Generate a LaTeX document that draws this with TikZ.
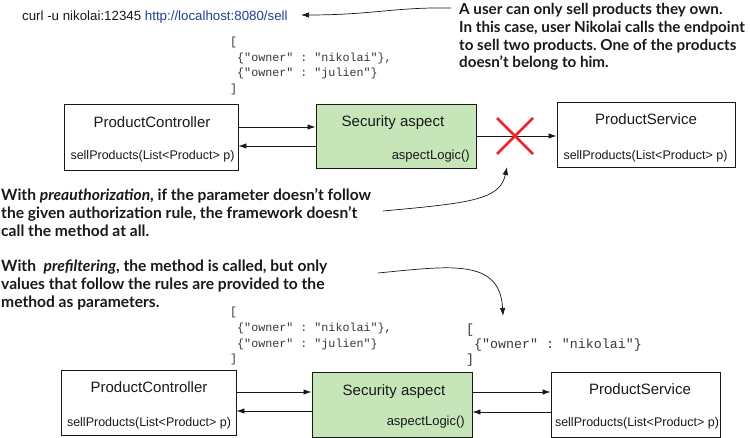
\documentclass[tikz,border=0pt]{standalone}
\usepackage{fontspec}
\setmainfont{Liberation Sans}
\setmonofont{Liberation Mono}
\newfontfamily\annfont{Lato}
\usetikzlibrary{arrows.meta}
\definecolor{aspgreen}{RGB}{198,230,186}
\definecolor{linkblue}{RGB}{35,64,145}
\definecolor{xred}{RGB}{232,38,43}
\definecolor{codegray}{RGB}{55,55,55}
\definecolor{ink}{RGB}{25,25,25}
\frenchspacing
\begin{document}
\begin{tikzpicture}[x=1pt,y=-1pt,
  box/.style={draw=ink,line width=0.9pt,inner sep=0pt},
  greenbox/.style={box,fill=aspgreen},
  title/.style={inner sep=0pt,anchor=base,font=\fontsize{15}{18}\selectfont,text=ink},
  sig/.style={inner sep=0pt,anchor=base,font=\fontsize{12.5}{15}\selectfont,text=ink},
  logic/.style={inner sep=0pt,anchor=base east,font=\fontsize{13}{15}\selectfont,text=ink},
  ann/.style={inner sep=0pt,anchor=base west,align=left,font=\annfont\bfseries\fontsize{15.6}{17.6}\selectfont,text=ink},
  anntop/.style={ann,font=\annfont\bfseries\fontsize{15.2}{17.6}\selectfont},
  codeA/.style={inner sep=0pt,anchor=base west,align=left,font=\ttfamily\fontsize{11.7}{15.6}\selectfont,text=codegray},
  codeB/.style={inner sep=0pt,anchor=base west,align=left,font=\ttfamily\fontsize{13.3}{15}\selectfont,text=codegray},
  arr/.style={draw=ink,line width=0.8pt,-{Latex[length=8pt,width=5.5pt]}},
  carr/.style={draw=ink,line width=0.7pt,-{Latex[length=8pt,width=5.5pt]}},
]
\useasboundingbox (0,0) rectangle (750,438);

% ---- top request line and annotation (base anchor = last line's baseline)
\node[inner sep=0pt,anchor=base west,font=\fontsize{13.3}{16}\selectfont,text=ink] (curl) at (22,21)
  {curl -u nikolai:12345 \textcolor{linkblue}{http://localhost:8080/sell}};
\node[anntop] (ann1) at (459,67.8) {A user can only sell products they own.\\In this case, user Nikolai calls the endpoint\\to sell two products. One of the products\\doesn’t belong to him.};
\coordinate (a1s) at (451,8);
\coordinate (a1e) at (301,15);
\draw[carr] (a1s) .. controls (395,7) and (372,15) .. (a1e);

\node[codeA] (json1) at (230,92.3) {[\\\ \{"owner" : "nikolai"\},\\\ \{"owner" : "julien"\}\\]};

% ---- top row
\node[box,minimum width=174pt,minimum height=66pt] (pc1) at (151,137) {};
\node[greenbox,minimum width=160pt,minimum height=64pt] (sa1) at (396,136) {};
\node[box,minimum width=178pt,minimum height=65pt] (ps1) at (646,134.5) {};

\node[title] (pc1t) at (152,127.5) {ProductController};
\node[sig] (pc1s) at (152.5,160) {sellProducts(List<Product> p)};
\node[title] (sa1t) at (393,126.5) {Security aspect};
\node[logic] (sa1l) at (470,160) {aspectLogic()};
\node[title] (ps1t) at (646,124.5) {ProductService};
\node[sig] (ps1s) at (645.5,159.5) {sellProducts(List<Product> p)};

\draw[arr] ([yshift=10pt]pc1.east) -- ([yshift=10pt]pc1.east -| sa1.west);
\draw[arr] ([yshift=-9pt]pc1.east -| sa1.west) -- ([yshift=-9pt]pc1.east);
\draw[arr] (sa1.east) -- (sa1.east -| ps1.west);

\coordinate (xc) at (515,136);
\draw[xred,line width=2.6pt] ([shift={(-18,-18)}]xc) -- ([shift={(18,18)}]xc)
  ([shift={(-18,18)}]xc) -- ([shift={(18,-18)}]xc);

% ---- explanations
\node[ann] (pre) at (1,236.2) {With \textit{preauthorization}, if the parameter doesn’t follow\\the given authorization rule, the framework doesn’t\\call the method at all.};
\coordinate (a2s) at (383,211);
\coordinate (a2e) at (507,167);
\draw[carr] (a2s) .. controls (470,203) and (500,200) .. (a2e);

\node[ann] (filt) at (1,307.2) {With \ \textit{prefiltering}, the method is called, but only\\values that follow the rules are provided to the\\method as parameters.};
\coordinate (a3s) at (378,273);
\coordinate (a3e) at (503,316);
\draw[carr] (a3s) .. controls (450,266) and (500,258) .. (a3e);

\node[codeA] (json2) at (230,362.8) {[\\\ \{"owner" : "nikolai"\},\\\ \{"owner" : "julien"\}\\]};
\node[codeB] (json3) at (466,364) {[\\\ \{"owner" : "nikolai"\}\\]};

% ---- bottom row
\node[box,minimum width=175pt,minimum height=65pt] (pc2) at (148.5,402.5) {};
\node[greenbox,minimum width=160pt,minimum height=65pt] (sa2) at (392,404.5) {};
\node[box,minimum width=169pt,minimum height=65pt] (ps2) at (635.5,404.5) {};

\node[title] (pc2t) at (149,392.5) {ProductController};
\node[sig] (pc2s) at (149,426.5) {sellProducts(List<Product> p)};
\node[title] (sa2t) at (394,395.5) {Security aspect};
\node[logic] (sa2l) at (465,425.5) {aspectLogic()};
\node[title] (ps2t) at (640,394.5) {ProductService};
\node[sig] (ps2s) at (637,426.5) {sellProducts(List<Product> p)};

\draw[arr] ([yshift=10.5pt]pc2.east) -- ([yshift=10.5pt]pc2.east -| sa2.west);
\draw[arr] ([yshift=-8.5pt]pc2.east -| sa2.west) -- ([yshift=-8.5pt]pc2.east);
\draw[arr] ([yshift=12.5pt]sa2.east) -- ([yshift=12.5pt]sa2.east -| ps2.west);
\draw[arr] ([yshift=-7.5pt]sa2.east -| ps2.west) -- ([yshift=-7.5pt]sa2.east);
\end{tikzpicture}
\end{document}
